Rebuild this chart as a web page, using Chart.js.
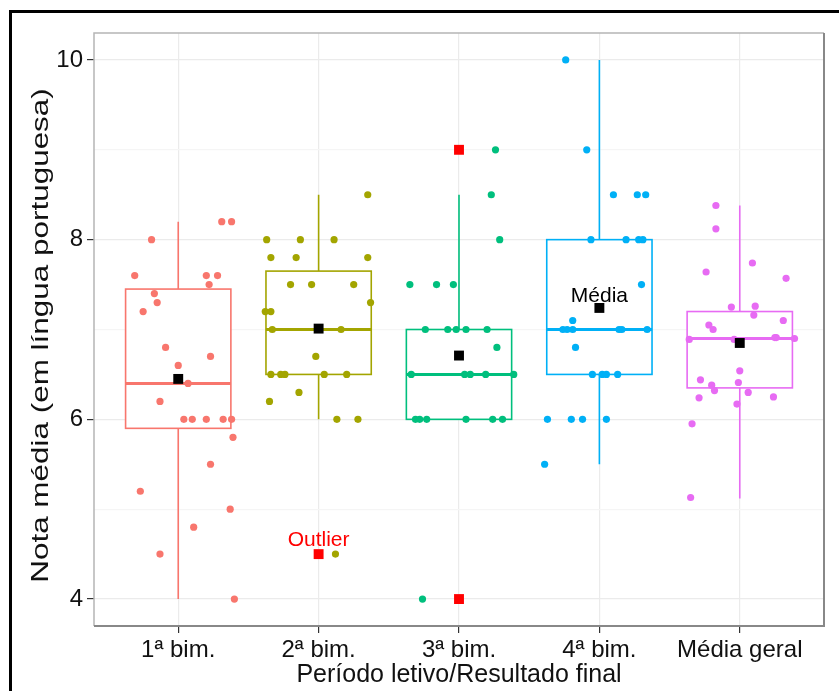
<!DOCTYPE html>
<html>
<head>
<meta charset="utf-8">
<script src="https://cdn.jsdelivr.net/npm/chart.js@4"></script>
<style>
  html, body { margin: 0; padding: 0; background: #fff; }
  #wrap { position: relative; width: 839px; height: 691px; }
  #frame { position: absolute; left: 9px; top: 10px; right: 0; bottom: 0;
           border-left: 3px solid #000; border-top: 3px solid #000; pointer-events: none; }
  canvas { position: absolute; left: 0; top: 0; }
</style>
</head>
<body>
<div id="wrap">
  <canvas id="myChart" width="839" height="691"></canvas>
  <div id="frame"></div>
</div>
<script>
  // categorias e cores (paleta padrão do ggplot)
  const categorias = ['1ª bim.', '2ª bim.', '3ª bim.', '4ª bim.', 'Média geral'];
  const cores = ['#F8766D', '#A3A500', '#00BF7D', '#00B0F6', '#E76BF3'];

  // notas individuais de cada grupo, com o deslocamento horizontal (jitter)
  const notas1 = [8.2, 8.2, 8.0, 7.6, 7.6, 7.6, 7.5, 7.4, 7.3, 7.2, 6.8, 6.7, 6.6, 6.4, 6.2, 6.0, 6.0, 6.0, 6.0, 6.0, 5.8, 5.5, 5.2, 5.0, 4.8, 4.5, 4.0];
  const jitter1 = [0.31, 0.38, -0.19, -0.31, 0.20, 0.28, 0.22, -0.17, -0.15, -0.25, -0.09, 0.23, 0.00, 0.07, -0.13, 0.04, 0.10, 0.20, 0.32, 0.38, 0.39, 0.23, -0.27, 0.37, 0.11, -0.13, 0.40];

  const notas2 = [8.5, 8.0, 8.0, 8.0, 7.8, 7.8, 7.8, 7.5, 7.5, 7.5, 7.3, 7.2, 7.2, 7.0, 7.0, 6.7, 6.5, 6.5, 6.5, 6.5, 6.5, 6.3, 6.2, 6.0, 6.0, 4.5];
  const jitter2 = [0.35, -0.37, -0.13, 0.11, -0.34, -0.16, 0.35, -0.20, -0.05, 0.25, 0.37, -0.38, -0.34, -0.33, 0.16, -0.02, -0.34, -0.27, -0.24, 0.04, 0.20, -0.14, -0.35, 0.13, 0.28, 0.12];

  const notas3 = [9.0, 8.5, 8.0, 7.5, 7.5, 7.5, 7.0, 7.0, 7.0, 7.0, 7.0, 6.8, 6.5, 6.5, 6.5, 6.5, 6.5, 6.0, 6.0, 6.0, 6.0, 6.0, 6.0, 4.0];
  const jitter3 = [0.26, 0.23, 0.29, -0.35, -0.16, -0.04, -0.24, -0.08, -0.02, 0.05, 0.20, 0.27, -0.34, 0.04, 0.08, 0.19, 0.39, -0.31, -0.28, -0.23, 0.05, 0.24, 0.31, -0.26];

  const notas4 = [10.0, 9.0, 8.5, 8.5, 8.5, 8.0, 8.0, 8.0, 8.0, 7.5, 7.1, 7.0, 7.0, 7.0, 7.0, 7.0, 7.0, 6.8, 6.5, 6.5, 6.5, 6.5, 6.0, 6.0, 6.0, 6.0, 5.5];
  const jitter4 = [-0.24, -0.09, 0.10, 0.27, 0.33, -0.06, 0.19, 0.28, 0.31, 0.30, -0.19, -0.26, -0.23, -0.19, 0.14, 0.16, 0.34, -0.17, -0.05, 0.02, 0.05, 0.13, -0.37, -0.20, -0.12, 0.05, -0.39];

  const notas5 = [8.38, 8.12, 7.74, 7.64, 7.57, 7.25, 7.26, 7.16, 7.10, 7.05, 7.00, 6.89, 6.89, 6.91, 6.91, 6.90, 6.54, 6.44, 6.41, 6.38, 6.32, 6.30, 6.24, 6.25, 6.17, 5.95, 5.13];
  const jitter5 = [-0.17, -0.17, 0.09, -0.24, 0.33, -0.06, 0.11, 0.10, 0.31, -0.22, -0.19, -0.36, -0.04, 0.25, 0.26, 0.39, 0.00, -0.28, -0.01, -0.20, -0.18, 0.06, -0.29, 0.24, -0.02, -0.34, -0.35];

  // estatísticas das caixas
  const limInf = [4.0, 6.0, 6.0, 5.5, 5.12];
  const q1 = [5.9, 6.5, 6.0, 6.5, 6.35];
  const mediana = [6.4, 7.0, 6.5, 7.0, 6.9];
  const q3 = [7.45, 7.65, 7.0, 8.0, 7.2];
  const limSup = [8.2, 8.5, 8.5, 10.0, 8.38];
  const medias = [6.45, 7.01, 6.71, 7.24, 6.85];

  // outliers (grupo, valor)
  const outlierGrupo = [2, 3, 3];
  const outlierValor = [4.5, 9.0, 4.0];

  // rótulos
  const yTicks = [4, 5, 6, 7, 8, 9, 10];
  const yLabels = [4, 6, 8, 10];
  const tituloY = 'Nota média (em língua portuguesa)';
  const anotacoes = [
    { texto: 'Média', x: 4, y: 7.37, cor: '#000' },
    { texto: 'Outlier', x: 2, y: 4.66, cor: '#ff0000' }
  ];

  const notas = [notas1, notas2, notas3, notas4, notas5];
  const jitters = [jitter1, jitter2, jitter3, jitter4, jitter5];

  const fonte = 'Liberation Sans, Arial, sans-serif';

  const caixas = {
    id: 'caixas',
    beforeDatasetsDraw(chart) {
      const { ctx, scales: { x, y } } = chart;
      const meia = 0.375;
      ctx.save();
      for (let i = 0; i < categorias.length; i++) {
        const xc = x.getPixelForValue(i + 1);
        const x0 = x.getPixelForValue(i + 1 - meia);
        const x1 = x.getPixelForValue(i + 1 + meia);
        ctx.strokeStyle = cores[i];
        ctx.lineWidth = 1.6;
        ctx.beginPath();
        ctx.moveTo(xc, y.getPixelForValue(q3[i]));
        ctx.lineTo(xc, y.getPixelForValue(limSup[i]));
        ctx.moveTo(xc, y.getPixelForValue(q1[i]));
        ctx.lineTo(xc, y.getPixelForValue(limInf[i]));
        ctx.stroke();
        const yt = y.getPixelForValue(q3[i]);
        const yb = y.getPixelForValue(q1[i]);
        ctx.fillStyle = '#fff';
        ctx.fillRect(x0, yt, x1 - x0, yb - yt);
        ctx.strokeRect(x0, yt, x1 - x0, yb - yt);
        ctx.lineWidth = 3;
        ctx.beginPath();
        ctx.moveTo(x0, y.getPixelForValue(mediana[i]));
        ctx.lineTo(x1, y.getPixelForValue(mediana[i]));
        ctx.stroke();
      }
      ctx.restore();
    },
    afterDatasetsDraw(chart) {
      const { ctx, scales: { x, y } } = chart;
      const area = chart.chartArea;
      ctx.save();
      ctx.font = '21px ' + fonte;
      ctx.textAlign = 'center';
      ctx.textBaseline = 'middle';
      anotacoes.forEach(a => {
        ctx.fillStyle = a.cor;
        ctx.fillText(a.texto, x.getPixelForValue(a.x), y.getPixelForValue(a.y));
      });
      // borda do painel
      ctx.strokeStyle = '#b5b5b5';
      ctx.lineWidth = 1.5;
      ctx.beginPath();
      ctx.moveTo(area.left, area.bottom);
      ctx.lineTo(area.left, area.top);
      ctx.lineTo(area.right, area.top);
      ctx.stroke();
      ctx.strokeStyle = '#888';
      ctx.lineWidth = 2;
      ctx.beginPath();
      ctx.moveTo(area.right, area.top);
      ctx.lineTo(area.right, area.bottom);
      ctx.lineTo(area.left, area.bottom);
      ctx.stroke();
      // título do eixo y (texto girado e um pouco esticado, como no original)
      ctx.translate(41, (area.top + area.bottom) / 2 + 6);
      ctx.rotate(-Math.PI / 2);
      ctx.scale(1.31, 1);
      ctx.font = '24px ' + fonte;
      ctx.fillStyle = '#111';
      ctx.fillText(tituloY, 0, 0);
      ctx.restore();
    }
  };

  const grupos = notas.map((vals, i) => ({
    data: vals.map((v, j) => ({ x: i + 1 + jitters[i][j], y: v })),
    backgroundColor: cores[i],
    pointRadius: 3.6,
    pointBorderWidth: 0,
    pointHoverRadius: 3.6
  }));

  new Chart(document.getElementById('myChart'), {
    type: 'scatter',
    data: {
      datasets: [
        {
          data: medias.map((m, i) => ({ x: i + 1, y: m })),
          pointStyle: 'rect', pointRadius: 7, pointBorderWidth: 0,
          backgroundColor: '#000'
        },
        {
          data: outlierValor.map((v, i) => ({ x: outlierGrupo[i], y: v })),
          pointStyle: 'rect', pointRadius: 7, pointBorderWidth: 0,
          backgroundColor: '#ff0000'
        },
        ...grupos
      ]
    },
    plugins: [caixas],
    options: {
      responsive: false,
      animation: false,
      devicePixelRatio: 1,
      layout: { padding: { left: 12, top: 33, right: 15, bottom: 0 } },
      plugins: { legend: { display: false }, tooltip: { enabled: false } },
      scales: {
        x: {
          type: 'linear', min: 0.4, max: 5.6,
          afterBuildTicks: s => { s.ticks = categorias.map((c, i) => ({ value: i + 1 })); },
          afterFit: s => { s.height = 65; },
          border: { display: false },
          grid: { color: '#ebebeb', lineWidth: 1.2, tickLength: 7, tickColor: '#333', tickWidth: 1.2 },
          ticks: {
            callback: v => categorias[v - 1],
            color: '#111', padding: 3, maxRotation: 0,
            font: { family: fonte, size: 24 }
          },
          title: {
            display: true, text: 'Período letivo/Resultado final', color: '#111',
            font: { family: fonte, size: 25, lineHeight: 1 }, padding: { top: 0, bottom: 3 }
          }
        },
        y: {
          min: 3.7, max: 10.3,
          afterBuildTicks: s => { s.ticks = yTicks.map(v => ({ value: v })); },
          afterFit: s => { s.width = 82; },
          border: { display: false },
          grid: {
            color: c => yLabels.includes(c.tick.value) ? '#ebebeb' : '#f5f5f5',
            lineWidth: 1.2, tickLength: 7, tickWidth: 1.2,
            tickColor: c => yLabels.includes(c.tick.value) ? '#333' : 'rgba(0,0,0,0)'
          },
          ticks: {
            callback: v => yLabels.includes(v) ? String(v) : '',
            color: '#111', padding: 4,
            font: { family: fonte, size: 24 }
          },
          title: { display: false }
        }
      }
    }
  });
</script>
</body>
</html>
